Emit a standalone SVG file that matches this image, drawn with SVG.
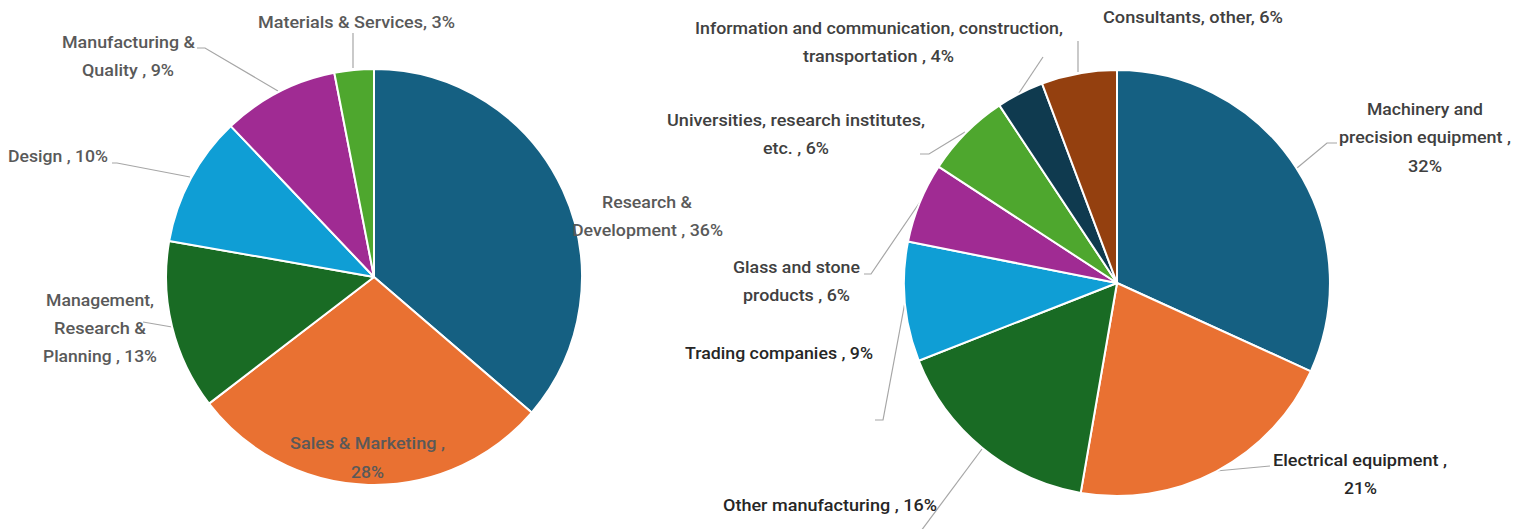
<svg xmlns="http://www.w3.org/2000/svg" width="1516" height="529" viewBox="0 0 1516 529">
<style>
.s{stroke:#fff;stroke-width:2;stroke-linejoin:round}
.ld{fill:none;stroke:#a6a6a6;stroke-width:1.2}
text{font-family:Roboto,"Liberation Sans",sans-serif;font-size:17px;font-weight:500}
.lt{fill:#595959}
.rt{fill:#404040}
.rc{fill:#262626}
</style>
<rect width="1516" height="529" fill="#fff"/>
<g id="leaders">
<polyline class="ld" points="353,33 353,68"/>
<polyline class="ld" points="197,48 205,48 278,91"/>
<polyline class="ld" points="112,163 117,163 190,177"/>
<polyline class="ld" points="143,322 172,327"/>
<polyline class="ld" points="1078,41 1078,72"/>
<polyline class="ld" points="1043,57 1019,93"/>
<polyline class="ld" points="920,154 929,154 965,132"/>
<polyline class="ld" points="864,274 871,274 920,202"/>
<polyline class="ld" points="875,420 883,420 905,302"/>
<polyline class="ld" points="982,449 918,535"/>
<polyline class="ld" points="1216,471 1270,466"/>
<polyline class="ld" points="1297,168 1327,143 1337,143"/>
</g>
<g id="pie-left">
<path id="l-rd" class="s" fill="#156082" d="M374,277 L374,69 A208,208 0 0,1 531.7,412.6 Z"/>
<path id="l-sales" class="s" fill="#E97132" d="M374,277 L531.7,412.6 A208,208 0 0,1 209,403.6 Z"/>
<path id="l-mgmt" class="s" fill="#196B24" d="M374,277 L209,403.6 A208,208 0 0,1 169.2,240.9 Z"/>
<path id="l-design" class="s" fill="#0F9ED5" d="M374,277 L169.2,240.9 A208,208 0 0,1 230.8,126.1 Z"/>
<path id="l-mfg" class="s" fill="#A02B93" d="M374,277 L230.8,126.1 A208,208 0 0,1 334.3,72.8 Z"/>
<path id="l-mat" class="s" fill="#4EA72E" d="M374,277 L334.3,72.8 A208,208 0 0,1 374,69 Z"/>
</g>
<g id="pie-right">
<path id="r-mach" class="s" fill="#156082" d="M1117,283 L1117,70 A213,213 0 0,1 1310.8,371.3 Z"/>
<path id="r-elec" class="s" fill="#E97132" d="M1117,283 L1310.8,371.3 A213,213 0 0,1 1080.7,492.9 Z"/>
<path id="r-other" class="s" fill="#196B24" d="M1117,283 L1080.7,492.9 A213,213 0 0,1 918.7,360.7 Z"/>
<path id="r-trade" class="s" fill="#0F9ED5" d="M1117,283 L918.7,360.7 A213,213 0 0,1 908,241.6 Z"/>
<path id="r-glass" class="s" fill="#A02B93" d="M1117,283 L908,241.6 A213,213 0 0,1 938.6,166.7 Z"/>
<path id="r-univ" class="s" fill="#4EA72E" d="M1117,283 L938.6,166.7 A213,213 0 0,1 999.4,105.4 Z"/>
<path id="r-ict" class="s" fill="#0F3A4F" d="M1117,283 L999.4,105.4 A213,213 0 0,1 1042.1,83.6 Z"/>
<path id="r-cons" class="s" fill="#94400F" d="M1117,283 L1042.1,83.6 A213,213 0 0,1 1117,70 Z"/>
</g>
<g id="labels-left" class="lt">
<text x="258" y="28" textLength="197" lengthAdjust="spacingAndGlyphs">Materials &amp; Services, 3%</text>
<text x="62" y="48" textLength="133" lengthAdjust="spacingAndGlyphs">Manufacturing &amp;</text>
<text x="82" y="76" textLength="92" lengthAdjust="spacingAndGlyphs">Quality , 9%</text>
<text x="8" y="162" textLength="100" lengthAdjust="spacingAndGlyphs">Design , 10%</text>
<text x="46" y="306" textLength="108" lengthAdjust="spacingAndGlyphs">Management,</text>
<text x="54" y="334" textLength="92" lengthAdjust="spacingAndGlyphs">Research &amp;</text>
<text x="43" y="362" textLength="114" lengthAdjust="spacingAndGlyphs">Planning , 13%</text>
<text x="602" y="208" textLength="90" lengthAdjust="spacingAndGlyphs">Research &amp;</text>
<text x="572" y="236" textLength="151" lengthAdjust="spacingAndGlyphs">Development , 36%</text>
<text x="290" y="449" textLength="155" lengthAdjust="spacingAndGlyphs">Sales &amp; Marketing ,</text>
<text x="351" y="478" textLength="33" lengthAdjust="spacingAndGlyphs">28%</text>
</g>
<g id="labels-right">
<text class="rt" x="695" y="34" textLength="368" lengthAdjust="spacingAndGlyphs">Information and communication, construction,</text>
<text class="rt" x="803" y="62" textLength="151" lengthAdjust="spacingAndGlyphs">transportation , 4%</text>
<text class="rt" x="1103" y="23" textLength="180" lengthAdjust="spacingAndGlyphs">Consultants, other, 6%</text>
<text class="rt" x="667" y="126" textLength="258" lengthAdjust="spacingAndGlyphs">Universities, research institutes,</text>
<text class="rt" x="763" y="154" textLength="66" lengthAdjust="spacingAndGlyphs">etc. , 6%</text>
<text class="rt" x="1367" y="115" textLength="116" lengthAdjust="spacingAndGlyphs">Machinery and</text>
<text class="rt" x="1339" y="143" textLength="172" lengthAdjust="spacingAndGlyphs">precision equipment ,</text>
<text class="rt" x="1408" y="172" textLength="34" lengthAdjust="spacingAndGlyphs">32%</text>
<text class="rt" x="733" y="273" textLength="127" lengthAdjust="spacingAndGlyphs">Glass and stone</text>
<text class="rt" x="743" y="301" textLength="107" lengthAdjust="spacingAndGlyphs">products , 6%</text>
<text class="rc" x="685" y="359" textLength="188" lengthAdjust="spacingAndGlyphs">Trading companies , 9%</text>
<text class="rc" x="1273" y="466" textLength="174" lengthAdjust="spacingAndGlyphs">Electrical equipment ,</text>
<text class="rc" x="1344" y="494" textLength="33" lengthAdjust="spacingAndGlyphs">21%</text>
<text class="rc" x="723" y="511" textLength="214" lengthAdjust="spacingAndGlyphs">Other manufacturing , 16%</text>
</g>
</svg>
